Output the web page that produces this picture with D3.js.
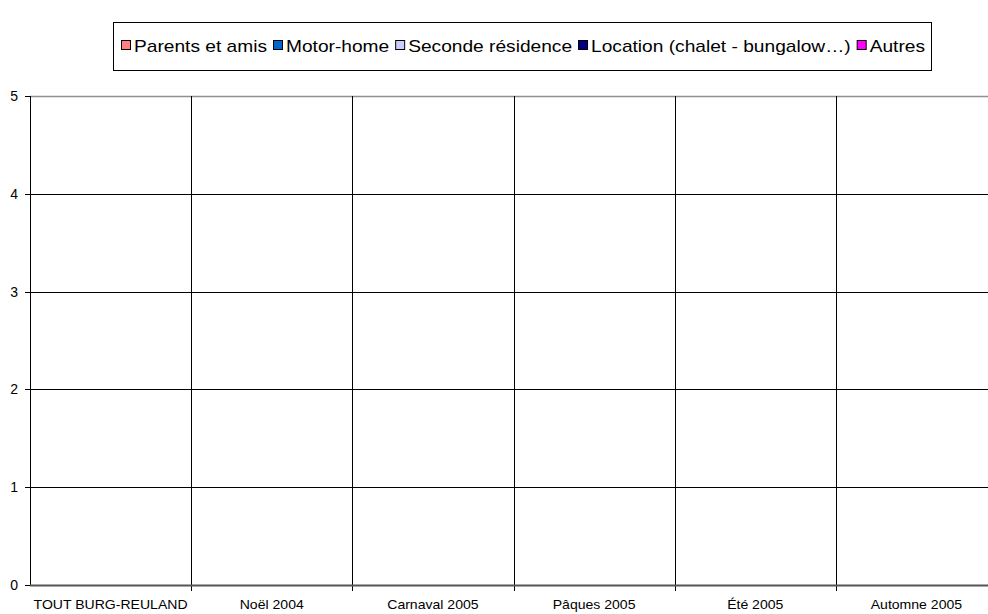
<!DOCTYPE html>
<html>
<head>
<meta charset="utf-8">
<script src="https://cdn.jsdelivr.net/npm/d3@7"></script>
<style>
  body { margin: 0; background: #fff; }
  svg { display: block; font-family: "Liberation Sans", Arial, sans-serif; }
</style>
</head>
<body>
<div id="container"></div>
<script>
const categories = ["TOUT BURG-REULAND", "Noël 2004", "Carnaval 2005", "Pâques 2005", "Été 2005", "Automne 2005"]
const seriesNames = ["Parents et amis", "Motor-home", "Seconde résidence", "Location (chalet - bungalow…)", "Autres"]
const seriesColors = ["#FF8080", "#0066CC", "#CCCCFF", "#000080", "#FF00FF"]
// every series is empty in the source chart
const parentsEtAmis = [0, 0, 0, 0, 0, 0]
const motorHome = [0, 0, 0, 0, 0, 0]
const secondeResidence = [0, 0, 0, 0, 0, 0]
const locationChalet = [0, 0, 0, 0, 0, 0]
const autres = [0, 0, 0, 0, 0, 0]
const yTicks = [0, 1, 2, 3, 4, 5]

const series = [parentsEtAmis, motorHome, secondeResidence, locationChalet, autres]

const width = 988
const height = 614
const plotLeft = 30, plotRight = 997, plotTop = 96, plotBottom = 585

const svg = d3.select("#container").append("svg")
    .attr("width", width)
    .attr("height", height)

const x = d3.scaleBand()
    .domain(categories)
    .range([plotLeft, plotRight])

const xInner = d3.scaleBand()
    .domain(seriesNames)
    .range([0, x.bandwidth()])
    .paddingOuter(0.3)

const y = d3.scaleLinear()
    .domain([0, 5])
    .range([plotBottom, plotTop])

// stretch text horizontally a bit, the source font runs wider
function stretch(sel, k) {
    sel.each(function () {
        const w = this.getComputedTextLength()
        d3.select(this)
            .attr("textLength", w * k)
            .attr("lengthAdjust", "spacingAndGlyphs")
    })
}

// horizontal gridlines
svg.append("g")
    .selectAll("line")
    .data(yTicks.filter(d => d > 0))
    .enter().append("line")
    .attr("x1", plotLeft)
    .attr("x2", plotRight)
    .attr("y1", d => Math.round(y(d)) + 0.5)
    .attr("y2", d => Math.round(y(d)) + 0.5)
    .attr("stroke", d => d === 5 ? "#909090" : "#000")
    .attr("stroke-width", d => d === 5 ? 1.5 : 1)

// vertical category separators
const seps = categories.map(c => x(c)).slice(1)
svg.append("g")
    .selectAll("line")
    .data(seps)
    .enter().append("line")
    .attr("x1", d => Math.round(d) + 0.5)
    .attr("x2", d => Math.round(d) + 0.5)
    .attr("y1", plotTop)
    .attr("y2", plotBottom + 6)
    .attr("stroke", "#000")

// bars (all zero)
series.forEach((vals, si) => {
    svg.append("g")
        .selectAll("rect")
        .data(vals)
        .enter().append("rect")
        .attr("x", (d, i) => x(categories[i]) + xInner(seriesNames[si]))
        .attr("width", xInner.bandwidth())
        .attr("y", d => y(d))
        .attr("height", d => y(0) - y(d))
        .attr("fill", seriesColors[si])
})

// y axis
svg.append("line")
    .attr("x1", plotLeft + 0.5).attr("x2", plotLeft + 0.5)
    .attr("y1", plotTop).attr("y2", plotBottom)
    .attr("stroke", "#000")

svg.append("g")
    .selectAll("line")
    .data(yTicks)
    .enter().append("line")
    .attr("x1", plotLeft - 5)
    .attr("x2", plotLeft)
    .attr("y1", d => Math.round(y(d)) + 0.5)
    .attr("y2", d => Math.round(y(d)) + 0.5)
    .attr("stroke", "#000")

svg.append("g")
    .selectAll("text")
    .data(yTicks)
    .enter().append("text")
    .attr("x", plotLeft - 12)
    .attr("y", d => y(d) + 5)
    .attr("text-anchor", "end")
    .attr("font-size", 14)
    .text(d => d)

// x axis line
svg.append("line")
    .attr("x1", plotLeft)
    .attr("x2", plotRight)
    .attr("y1", plotBottom + 0.5)
    .attr("y2", plotBottom + 0.5)
    .attr("stroke", "#555")
    .attr("stroke-width", 2)

svg.append("g")
    .selectAll("text")
    .data(categories)
    .enter().append("text")
    .attr("x", d => x(d) + x.bandwidth() / 2)
    .attr("y", 609)
    .attr("text-anchor", "middle")
    .attr("font-size", 13)
    .text(d => d)
    .call(stretch, 1.08)

// legend
const legend = svg.append("g")
legend.append("rect")
    .attr("x", 113.5)
    .attr("y", 22.5)
    .attr("width", 818)
    .attr("height", 48)
    .attr("fill", "#fff")
    .attr("stroke", "#000")

const swatch = 10, swGap = 3, itemGap = 6
const legStart = 121, legEnd = 925

const item = legend.selectAll("g.item")
    .data(seriesNames)
    .enter().append("g")
    .attr("class", "item")

const labels = item.append("text")
    .attr("y", 52)
    .attr("font-size", 17)
    .text(d => d)

const natural = labels.nodes().map(n => n.getComputedTextLength())
const fixedW = seriesNames.length * (swatch + swGap) + (seriesNames.length - 1) * itemGap
const k = (legEnd - legStart - fixedW) / d3.sum(natural)

let cx = legStart
item.each(function (d, i) {
    const g = d3.select(this)
    g.insert("rect", "text")
        .attr("x", cx + 0.5)
        .attr("y", 40.5)
        .attr("width", swatch - 1)
        .attr("height", swatch - 1)
        .attr("fill", seriesColors[i])
        .attr("stroke", "#000")
    g.select("text")
        .attr("x", cx + swatch + swGap)
        .attr("textLength", natural[i] * k)
        .attr("lengthAdjust", "spacingAndGlyphs")
    cx += swatch + swGap + natural[i] * k + itemGap
})
</script>
</body>
</html>
